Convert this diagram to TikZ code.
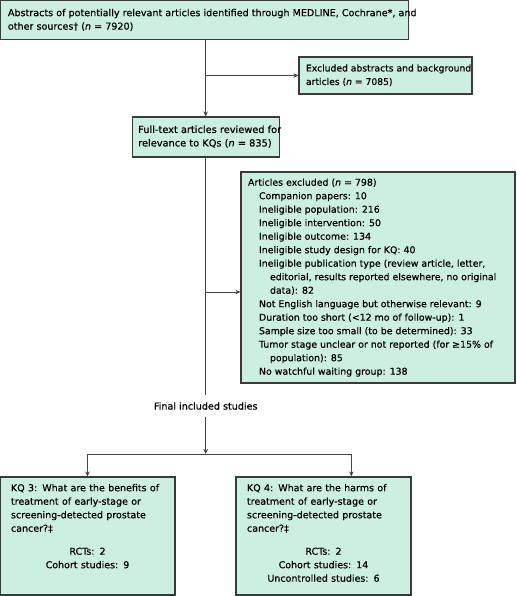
\documentclass[tikz,border=0pt]{standalone}
\usepackage{fontspec}
\setmainfont{DejaVu Sans}[FakeBold=0.5]
\usetikzlibrary{arrows.meta}
\definecolor{boxfill}{HTML}{CDEFE0}
\definecolor{boxline}{HTML}{3A3A3A}
\definecolor{conn}{HTML}{444444}
\newcommand{\fsz}[1]{\fontsize{#1}{13.5}\selectfont}
\newcommand{\boxlines}[2]{\makebox[#1][l]{\begin{tabular}{@{}l@{}}#2\end{tabular}}}
\tikzset{
  box/.style={draw=boxline, line width=1.1pt, fill=boxfill, rectangle, inner ysep=0pt},
  conline/.style={draw=conn, line width=0.9pt},
  arr/.style={conline, -{Stealth[length=5pt,width=4.5pt]}},
}
\begin{document}
\begin{tikzpicture}[x=1pt,y=-1pt]
\useasboundingbox (0,0) rectangle (516,596);
\node[box, font=\fsz{9.6}, minimum width=408pt, minimum height=39.5pt, inner xsep=7pt] (top) at (204.9,20.2)
  {\boxlines{394pt}{Abstracts of potentially relevant articles identified through MEDLINE, Cochrane*, and\\other sources† (\textit{n} = 7920)}};
\node[box, font=\fsz{9.2}, minimum width=173pt, minimum height=37pt, inner xsep=7pt] (exA) at (385.5,75.5)
  {\boxlines{159pt}{Excluded abstracts and background\\articles (\textit{n} = 7085)}};
\node[box, font=\fsz{9.8}, minimum width=147pt, minimum height=40pt, inner xsep=6pt] (full) at (205.7,137)
  {\boxlines{135pt}{Full-text articles reviewed for\\relevance to KQs (\textit{n} = 835)}};
\node[box, font=\fsz{9.4}, minimum width=274pt, minimum height=211pt, inner xsep=7pt] (exB) at (378,277.5)
  {\boxlines{260pt}{Articles excluded (\textit{n} = 798)\\
  \hspace*{11pt}Companion papers: 10\\
  \hspace*{11pt}Ineligible population: 216\\
  \hspace*{11pt}Ineligible intervention: 50\\
  \hspace*{11pt}Ineligible outcome: 134\\
  \hspace*{11pt}Ineligible study design for KQ: 40\\
  \hspace*{11pt}Ineligible publication type (review article, letter,\\
  \hspace*{22pt}editorial, results reported elsewhere, no original\\
  \hspace*{22pt}data): 82\\
  \hspace*{11pt}Not English language but otherwise relevant: 9\\
  \hspace*{11pt}Duration too short (<12 mo of follow-up): 1\\
  \hspace*{11pt}Sample size too small (to be determined): 33\\
  \hspace*{11pt}Tumor stage unclear or not reported (for ≥15\% of\\
  \hspace*{22pt}population): 85\\
  \hspace*{11pt}No watchful waiting group: 138}};
\node[font=\fsz{9.6}, inner xsep=2pt, inner ysep=0pt, minimum height=22pt] (final) at (205.7,406) {Final included studies};
\node[box, minimum width=175pt, minimum height=118pt, inner xsep=11pt, text width=153pt] (kq3) at (87.5,536)
  {\parbox[t][104pt][t]{153pt}{\fsz{9.5}\raggedright
  KQ 3: What are the benefits of\\treatment of early-stage or\\screening-detected prostate\\cancer?‡\par\vspace{9.5pt}
  {\centering RCTs: 2\\Cohort studies: 9\par}}};
\node[box, minimum width=175pt, minimum height=118pt, inner xsep=11pt, text width=153pt] (kq4) at (323.5,536)
  {\parbox[t][104pt][t]{153pt}{\fsz{9.5}\raggedright
  KQ 4: What are the harms of\\treatment of early-stage or\\screening-detected prostate\\cancer?‡\par\vspace{9.5pt}
  {\centering RCTs: 2\\Cohort studies: 14\\Uncontrolled studies: 6\par}}};
\coordinate (split) at (205.7,454);
\coordinate (right) at (351.3,454);
\draw[arr] (full.north |- top.south) -- (full.north);
\draw[arr] (full.north |- exA.west) -- (exA.west);
\draw[conline] (full.south) -- (final.north);
\draw[arr] (full.south |- exB.west) ++(0,14.5) coordinate (exBp) (full.south |- exBp) -- (exB.west |- exBp);
\draw[arr] (final.south) -- (split);
\draw[conline] (kq3.north |- split) -- (right);
\draw[arr] (kq3.north |- split) -- (kq3.north);
\draw[arr] (right) -- (right |- kq4.north);
\end{tikzpicture}
\end{document}
